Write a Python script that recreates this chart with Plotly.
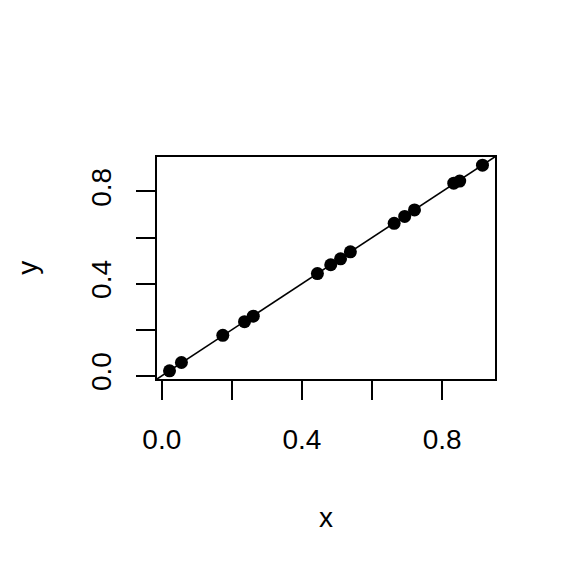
import plotly.graph_objects as go

x_vals = [0.022, 0.056, 0.174, 0.236, 0.261, 0.444, 0.482, 0.510, 0.538, 0.663, 0.693, 0.721, 0.833, 0.850, 0.915]
y_vals = [0.022, 0.058, 0.176, 0.235, 0.259, 0.444, 0.482, 0.508, 0.538, 0.662, 0.692, 0.720, 0.836, 0.845, 0.914]
line_intercept = 0.0
line_slope = 1.0
tick_vals = [0.0, 0.2, 0.4, 0.6, 0.8]
tick_text = ["0.0", "", "0.4", "", "0.8"]


def r_range(v):
    lo, hi = min(v), max(v)
    d = hi - lo
    return [lo - 0.04 * d, hi + 0.04 * d]


xr = r_range(x_vals)
yr = r_range(y_vals)
lx = [xr[0] - 0.1, xr[1] + 0.1]
ly = [line_intercept + line_slope * v for v in lx]

fig = go.Figure()
fig.add_trace(go.Scatter(x=x_vals, y=y_vals, mode="markers",
                         marker=dict(color="black", size=13, line=dict(width=0))))
fig.add_trace(go.Scatter(x=lx, y=ly, mode="lines", line=dict(color="black", width=1.6)))

font = dict(family="Liberation Sans, Arial, sans-serif", size=28, color="black")
axis_common = dict(showgrid=False, zeroline=False, showline=True, mirror=True,
                   linecolor="black", linewidth=1.6, ticks="outside", ticklen=19,
                   tickwidth=1.6, tickcolor="black", tickvals=tick_vals, ticktext=tick_text,
                   tickfont=font, automargin=False)
fig.update_xaxes(range=xr, ticklabelstandoff=16, **axis_common)
fig.update_yaxes(range=yr, tickangle=-90, ticklabelstandoff=14, **axis_common)

fig.update_layout(
    width=576, height=576, showlegend=False,
    plot_bgcolor="white", paper_bgcolor="white",
    margin=dict(l=157, r=81, t=157, b=197),
    font=font,
    annotations=[
        dict(text="x", xref="paper", yref="paper", x=0.5, y=-0.625, showarrow=False,
             font=font, xanchor="center", yanchor="middle"),
        dict(text="y", xref="paper", yref="paper", x=-0.385, y=0.5, showarrow=False,
             font=font, textangle=-90, xanchor="center", yanchor="middle"),
    ],
)
fig.write_html("out.html", config={"displayModeBar": False},
               post_script="document.body.style.margin='0';document.body.style.padding='0';")
